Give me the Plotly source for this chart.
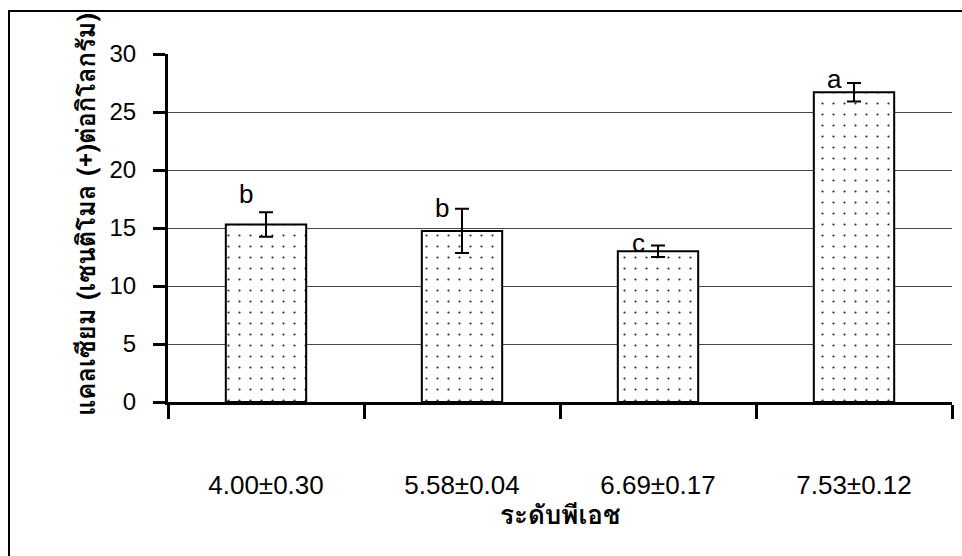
import plotly.graph_objects as go

# ---- data ----
ph_labels = ["4.00±0.30", "5.58±0.04", "6.69±0.17", "7.53±0.12"]
calcium = [15.3, 14.75, 13.0, 26.7]
calcium_err = [1.05, 1.9, 0.5, 0.8]
letters = ["b", "b", "c", "a"]
y_ticks = [0, 5, 10, 15, 20, 25, 30]

y_title = "แคลเซียม (เซนติโมล (+)ต่อกิโลกรัม)"
x_title = "ระดับพีเอช"

xpos = list(range(len(ph_labels)))
bounds = [i - 0.5 for i in range(len(ph_labels) + 1)]

FONT = "Liberation Sans, Arial, sans-serif"
THAI = ("Tahoma, Loma, Garuda, Noto Sans Thai Looped, Norasi, Waree, Umpush, "
        "Noto Sans Thai, DejaVu Sans, sans-serif")

fig = go.Figure()
fig.add_trace(go.Bar(
    x=xpos, y=calcium,
    width=0.41,
    marker=dict(
        color="white",
        line=dict(color="black", width=2),
        pattern=dict(shape=".", size=11, solidity=0.03, fgcolor="#222222",
                     bgcolor="white", fillmode="replace"),
    ),
    error_y=dict(type="data", array=calcium_err, visible=True,
                 color="black", thickness=2, width=7),
    hoverinfo="skip",
))

# significance letters
letter_shift = [18, 1, 2, 4]
for i, (v, e, L) in enumerate(zip(calcium, calcium_err, letters)):
    fig.add_annotation(x=xpos[i], y=v + e, xref="x", yref="y", text=L,
                       showarrow=False, xshift=-20, yshift=letter_shift[i],
                       xanchor="center", yanchor="middle",
                       font=dict(family=FONT, size=26, color="black"))

fig.add_annotation(xref="paper", yref="paper", x=-0.1046, y=0.54,
                   xanchor="center", yanchor="middle",
                   text=f"<b>{y_title}</b>", textangle=-90, showarrow=False,
                   font=dict(family=THAI, size=25.5, color="black"))
fig.add_annotation(xref="paper", yref="paper", x=0.5, y=-0.322,
                   xanchor="center", yanchor="middle",
                   text=f"<b>{x_title}</b>", showarrow=False,
                   font=dict(family=THAI, size=26, color="black"))

# outer frame
fig.add_shape(type="rect", xref="paper", yref="paper",
              x0=-0.2028, y0=-0.6, x1=1.2, y1=1.1236,
              line=dict(color="black", width=2), layer="below")

fig.update_layout(
    width=962, height=556,
    margin=dict(l=168, r=10, t=54, b=154),
    paper_bgcolor="white", plot_bgcolor="white",
    showlegend=False,
    xaxis=dict(
        range=[bounds[0], bounds[-1]],
        tickmode="array", tickvals=xpos, ticktext=ph_labels,
        ticks="", showgrid=False, zeroline=False,
        showline=True, linecolor="black", linewidth=3,
        tickfont=dict(family=FONT, size=26, color="black"),
        ticklabelstandoff=58,
        minor=dict(tickmode="array", tickvals=bounds, ticks="outside",
                   ticklen=14, tickwidth=3, tickcolor="black", showgrid=False),
    ),
    yaxis=dict(
        range=[y_ticks[0], y_ticks[-1]],
        tickmode="array", tickvals=y_ticks,
        ticks="outside", ticklen=12, tickwidth=3, tickcolor="black",
        showline=True, linecolor="black", linewidth=3,
        showgrid=False, zeroline=False,
        tickfont=dict(family=FONT, size=24, color="black"),
        ticklabelstandoff=12,
        minor=dict(tickmode="array", tickvals=y_ticks[1:-1], ticks="",
                   showgrid=True, gridcolor="#444444", gridwidth=1),
    ),
)

fig.write_html("out.html",
               config={"displayModeBar": False},
               post_script="document.body.style.margin='0';")
